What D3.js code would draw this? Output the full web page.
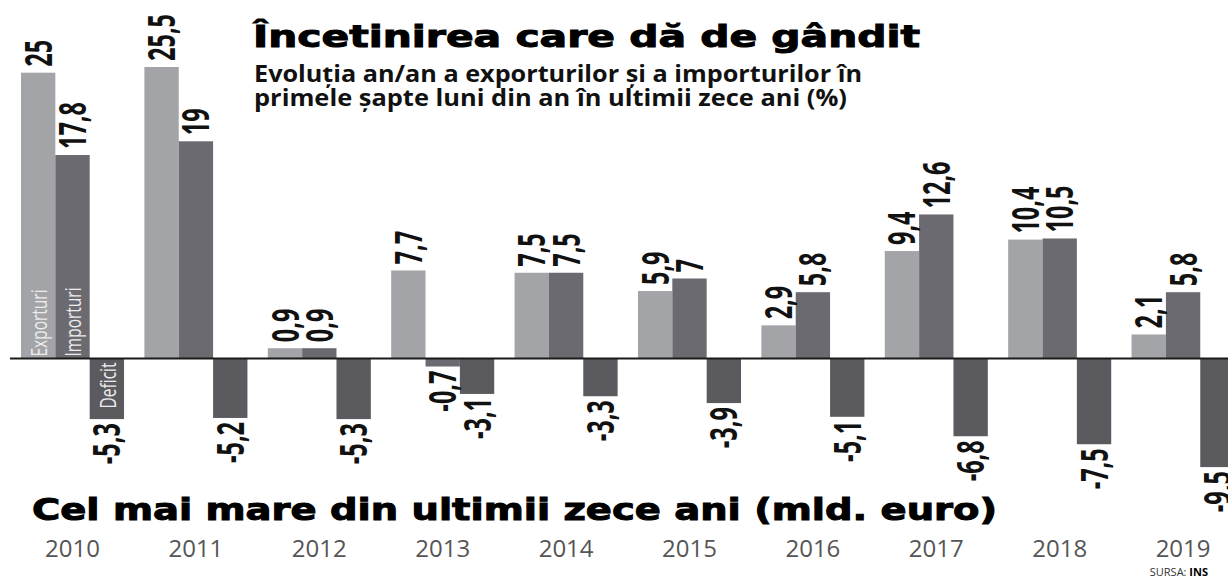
<!DOCTYPE html>
<html>
<head>
<meta charset="utf-8">
<script src="https://cdn.jsdelivr.net/npm/d3@7"></script>
<style>
  body { margin: 0; background: #fff; }
  svg { display: block; }
</style>
</head>
<body>
<script>
const w = 1228;
const h = 579;

const years = ["2010", "2011", "2012", "2013", "2014", "2015", "2016", "2017", "2018", "2019"];
const exportsPct = [25, 25.5, 0.9, 7.7, 7.5, 5.9, 2.9, 9.4, 10.4, 2.1];
const importsPct = [17.8, 19, 0.9, -0.7, 7.5, 7, 5.8, 12.6, 10.5, 5.8];
const deficitBn = [-5.3, -5.2, -5.3, -3.1, -3.3, -3.9, -5.1, -6.8, -7.5, -9.5];
const seriesKeys = ["exp", "imp", "def"];
const seriesNames = ["Exporturi", "Importuri", "Deficit"];
const colors = ["#a3a4a8", "#6b6a70", "#5b5a5f"];

const title = "Încetinirea care dă de gândit";
const subtitle = ["Evoluția an/an a exporturilor și a importurilor în", "primele șapte luni din an în ultimii zece ani (%)"];
const deficitTitle = "Cel mai mare din ultimii zece ani (mld. euro)";

const rows = years.map((yr, i) => ({
  year: yr,
  values: [exportsPct[i], importsPct[i], deficitBn[i]].map((v, j) => ({ key: seriesKeys[j], v: v, i: j }))
}));

const svg = d3.select("body")
  .append("svg")
  .attr("width", w)
  .attr("height", h);

const x0 = d3.scaleBand()
  .domain(years)
  .range([21, 1234.6])
  .paddingInner(0.165)
  .paddingOuter(0);

const x1 = d3.scaleBand()
  .domain(seriesKeys)
  .range([0, x0.bandwidth()]);

const y = d3.scaleLinear()
  .domain([0, 25])
  .range([358.5, 72.7]);

const fmt = (v) => String(v).replace(".", ",");

const groups = svg.append("g")
  .selectAll("g")
  .data(rows)
  .enter().append("g")
  .attr("transform", d => `translate(${x0(d.year)},0)`);

// bars
groups.selectAll("rect")
  .data(d => d.values)
  .enter().append("rect")
  .attr("x", d => x1(d.key))
  .attr("y", d => y(Math.max(0, d.v)))
  .attr("width", x1.bandwidth())
  .attr("height", d => Math.abs(y(d.v) - y(0)))
  .attr("fill", d => colors[d.i]);

// value labels, rotated
groups.selectAll("text.val")
  .data(d => d.values)
  .enter().append("text")
  .attr("class", "val")
  .attr("transform", d => {
    let cx = x1(d.key) + x1.bandwidth() / 2;
    let cy = d.v >= 0 ? y(d.v) - 6 : y(d.v) + 4;
    return `translate(${cx},${cy}) rotate(-90) scale(1,1.6)`;
  })
  .attr("dy", "0.36em")
  .attr("text-anchor", d => d.v >= 0 ? "start" : "end")
  .attr("font-family", "'Open Sans', sans-serif")
  .attr("font-weight", 700)
  .attr("font-size", "23.5px")
  .attr("fill", "#111")
  .text(d => fmt(d.v));

// series names inside the first group's bars
svg.append("g")
  .selectAll("text")
  .data(rows[0].values)
  .enter().append("text")
  .attr("transform", d => {
    let cx = x0(rows[0].year) + x1(d.key) + x1.bandwidth() / 2 + 1;
    let cy = d.v >= 0 ? y(0) - 2 : y(0) + 4;
    return `translate(${cx},${cy}) rotate(-90) scale(1,1.4)`;
  })
  .attr("dy", "0.36em")
  .attr("text-anchor", d => d.v >= 0 ? "start" : "end")
  .attr("font-family", "'Open Sans', sans-serif")
  .attr("font-size", "15.5px")
  .attr("fill", "#ececec")
  .text((d, i) => seriesNames[i]);

// zero line
svg.append("line")
  .attr("x1", 10)
  .attr("x2", w)
  .attr("y1", y(0))
  .attr("y2", y(0))
  .attr("stroke", "#1a1a1a")
  .attr("stroke-width", 2);

// year labels
svg.append("g")
  .selectAll("text")
  .data(years)
  .enter().append("text")
  .attr("x", d => x0(d) + x0.bandwidth() / 2)
  .attr("y", 557)
  .attr("text-anchor", "middle")
  .attr("font-family", "'Open Sans', sans-serif")
  .attr("font-size", "24px")
  .attr("fill", "#555")
  .text(d => d);

// titles
svg.append("text")
  .attr("x", 253)
  .attr("y", 47)
  .attr("font-family", "'DejaVu Sans', sans-serif")
  .attr("font-weight", 700)
  .attr("font-size", "30px")
  .attr("stroke", "#000")
  .attr("stroke-width", 1)
  .attr("textLength", 667)
  .attr("lengthAdjust", "spacingAndGlyphs")
  .text(title);

svg.selectAll(null)
  .data(subtitle)
  .enter().append("text")
  .attr("x", 254)
  .attr("y", (d, i) => 82 + i * 24)
  .attr("font-family", "'Open Sans', sans-serif")
  .attr("font-weight", 700)
  .attr("font-size", "22.5px")
  .attr("fill", "#111")
  .attr("textLength", (d, i) => i == 0 ? 608 : 593)
  .attr("lengthAdjust", "spacingAndGlyphs")
  .text(d => d);

svg.append("text")
  .attr("x", 32)
  .attr("y", 520)
  .attr("font-family", "'DejaVu Sans', sans-serif")
  .attr("font-weight", 700)
  .attr("font-size", "30px")
  .attr("stroke", "#000")
  .attr("stroke-width", 1)
  .attr("textLength", 965)
  .attr("lengthAdjust", "spacingAndGlyphs")
  .text(deficitTitle);

// source
let src = svg.append("text")
  .attr("x", 1208)
  .attr("y", 576)
  .attr("text-anchor", "end")
  .attr("font-family", "'Open Sans', sans-serif")
  .attr("font-size", "11px")
  .attr("fill", "#333");
src.append("tspan").text("SURSA: ");
src.append("tspan").attr("font-weight", 700).attr("fill", "#000").text("INS");
</script>
</body>
</html>
